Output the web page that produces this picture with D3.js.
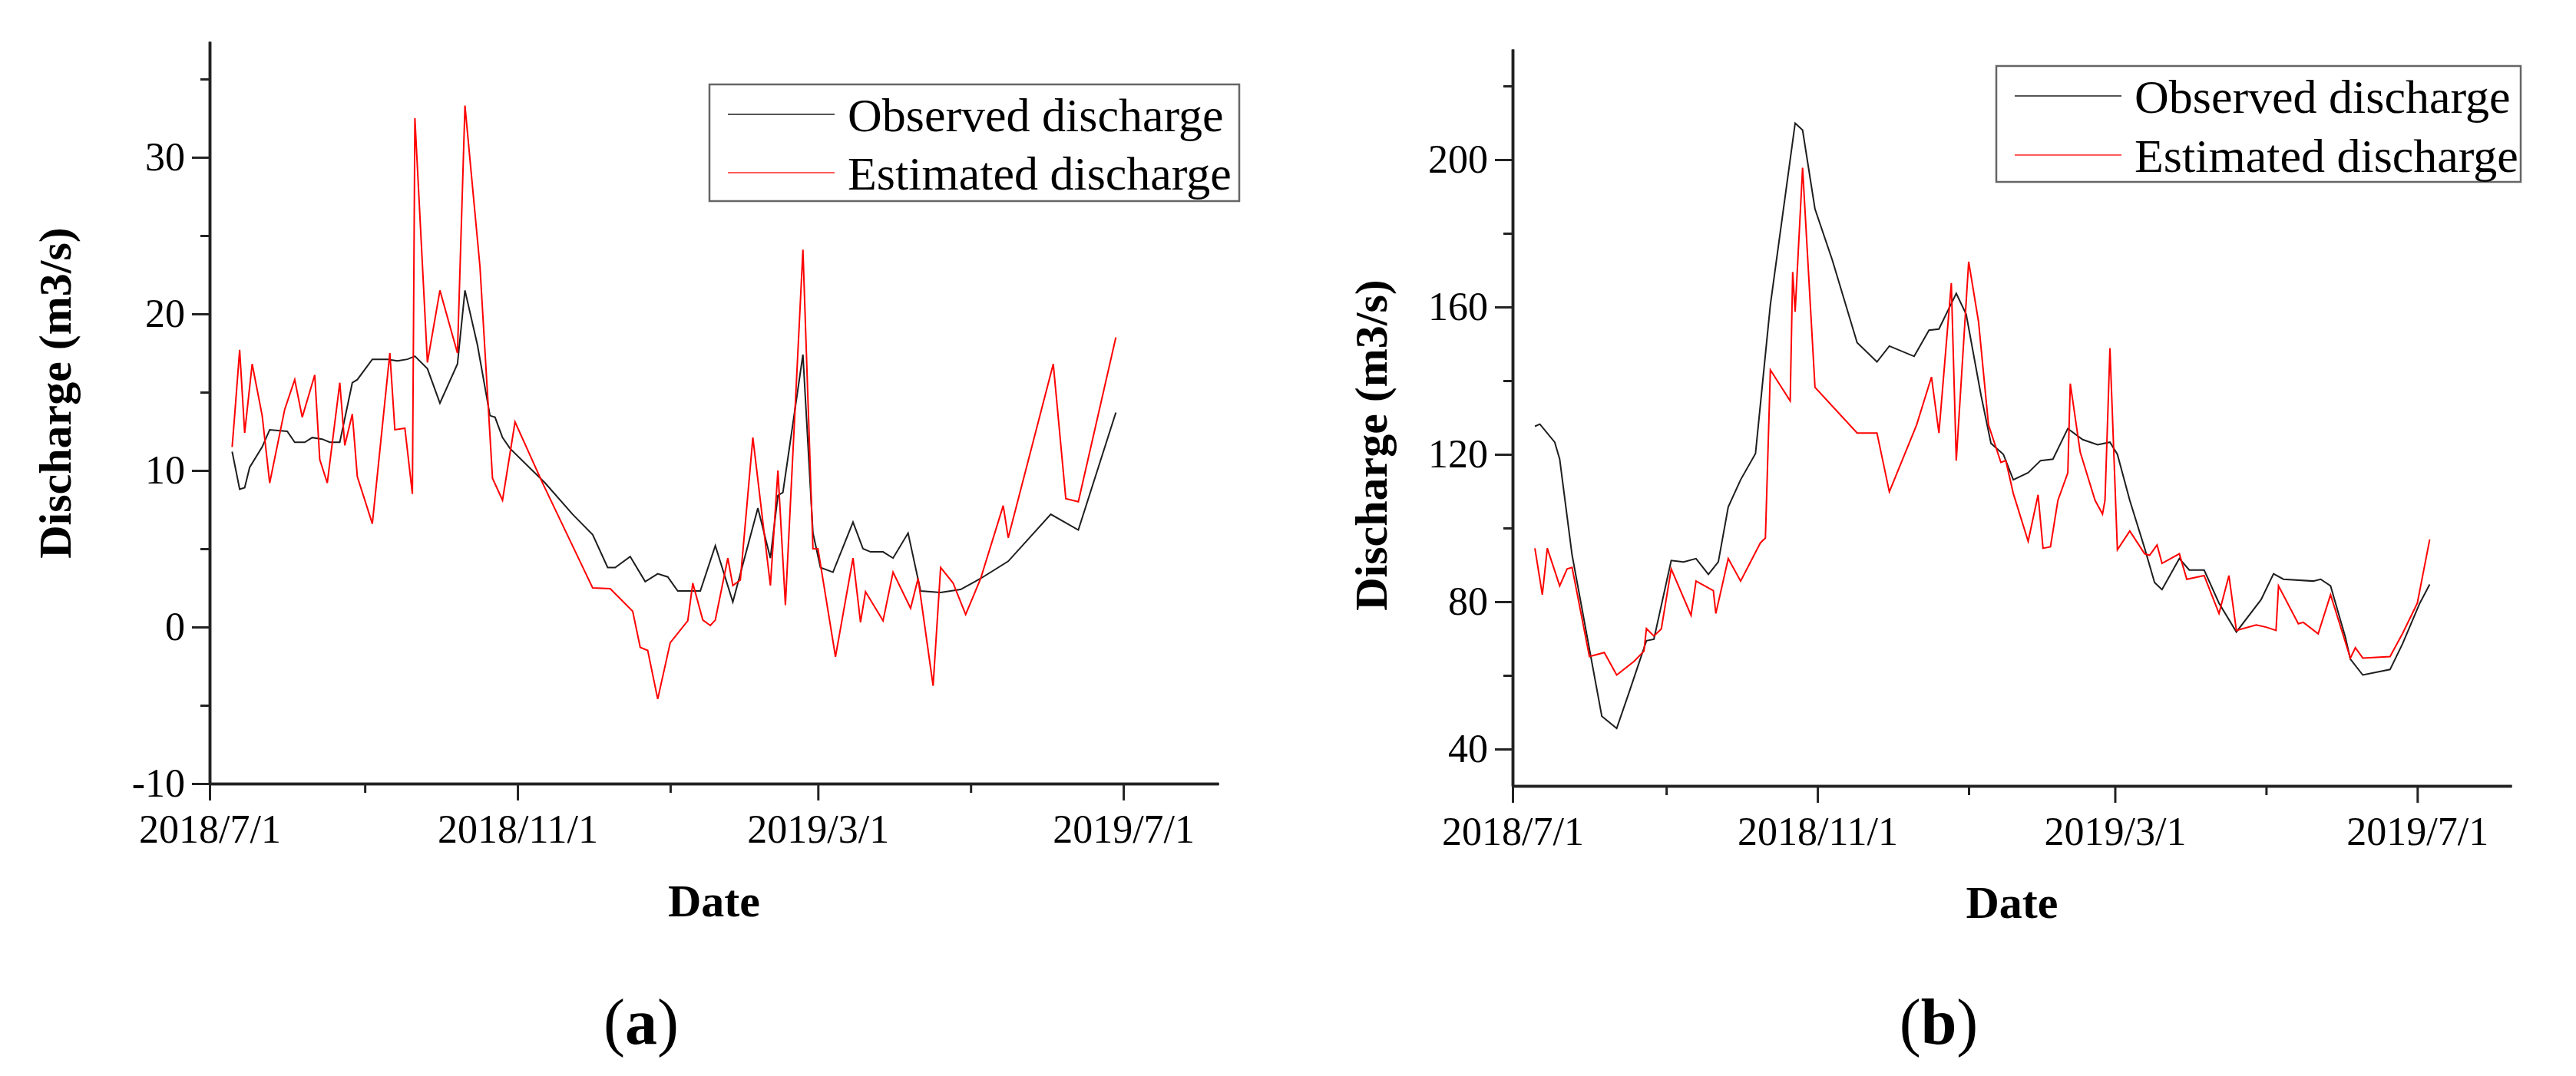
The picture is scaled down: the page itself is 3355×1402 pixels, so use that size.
<!DOCTYPE html>
<html>
<head>
<meta charset="utf-8">
<style>
  body { margin: 0; background: #fff; }
  text { font-family: "Liberation Serif", "Times New Roman", serif; fill: #000; }
  .axis-title { font-weight: bold; font-size: 60px; }
  .legend text { font-size: 62px; }
  .panel-tag { font-size: 84px; }
</style>
</head>
<body>
<svg id="fig" width="3355" height="1402"></svg>
<script src="https://cdnjs.cloudflare.com/ajax/libs/d3/7.8.5/d3.min.js"></script>
<script>
// ---- panel (a) ----
const aObsDate = ["2018-07-10","2018-07-13","2018-07-15","2018-07-17","2018-07-22","2018-07-25","2018-08-01","2018-08-04",
  "2018-08-08","2018-08-11","2018-08-15","2018-08-18","2018-08-22","2018-08-27","2018-08-29","2018-09-04","2018-09-10",
  "2018-09-14","2018-09-18","2018-09-21","2018-09-26","2018-10-01","2018-10-08","2018-10-11","2018-10-16","2018-10-21",
  "2018-10-23","2018-10-26","2018-10-29","2018-11-12","2018-11-23","2018-12-01","2018-12-07","2018-12-10","2018-12-16",
  "2018-12-22","2018-12-27","2018-12-31","2019-01-04","2019-01-13","2019-01-19","2019-01-26","2019-02-05","2019-02-10",
  "2019-02-13","2019-02-15","2019-02-23","2019-02-27","2019-03-02","2019-03-07","2019-03-15","2019-03-19","2019-03-22",
  "2019-03-27","2019-03-31","2019-04-06","2019-04-11","2019-04-19","2019-04-27","2019-05-05","2019-05-16","2019-06-02",
  "2019-06-13","2019-06-28"];
const aObsQ = [11.2,8.8,8.9,10.2,11.5,12.6,12.5,11.8,
  11.8,12.1,12.0,11.8,11.8,15.6,15.8,17.1,17.1,
  17.0,17.1,17.3,16.5,14.3,16.8,21.5,18.0,13.5,
  13.4,12.1,11.4,9.2,7.2,5.9,3.8,3.8,4.5,
  2.9,3.4,3.2,2.3,2.3,5.2,1.6,7.6,4.4,
  8.4,8.6,17.4,6.0,3.8,3.5,6.7,5.0,4.8,
  4.8,4.4,6.0,2.3,2.2,2.4,3.1,4.2,7.2,
  6.2,13.7];

const aEstDate = ["2018-07-10","2018-07-11","2018-07-13","2018-07-15","2018-07-18","2018-07-22","2018-07-25","2018-07-31",
  "2018-08-04","2018-08-07","2018-08-12","2018-08-14","2018-08-17","2018-08-22","2018-08-24","2018-08-27","2018-08-29",
  "2018-09-04","2018-09-11","2018-09-13","2018-09-17","2018-09-20","2018-09-21","2018-09-26","2018-10-01","2018-10-08",
  "2018-10-11","2018-10-17","2018-10-22","2018-10-26","2018-10-31","2018-11-11","2018-12-01","2018-12-08","2018-12-17",
  "2018-12-20","2018-12-23","2018-12-27","2019-01-01","2019-01-08","2019-01-10","2019-01-14","2019-01-17","2019-01-19",
  "2019-01-24","2019-01-26","2019-01-29","2019-02-03","2019-02-10","2019-02-13","2019-02-16","2019-02-23","2019-02-27",
  "2019-03-01","2019-03-08","2019-03-15","2019-03-18","2019-03-20","2019-03-27","2019-03-31","2019-04-07","2019-04-10",
  "2019-04-16","2019-04-19","2019-04-24","2019-04-29","2019-05-05","2019-05-14","2019-05-16","2019-06-03","2019-06-08",
  "2019-06-13","2019-06-28"];
const aEstQ = [11.5,13.5,17.7,12.4,16.8,13.5,9.2,13.9,
  15.8,13.4,16.1,10.7,9.2,15.6,11.6,13.6,9.6,
  6.6,17.5,12.6,12.7,8.5,32.5,16.9,21.5,17.5,
  33.3,23.0,9.5,8.1,13.1,9.2,2.5,2.45,1.0,
  -1.3,-1.5,-4.6,-1.0,0.4,2.8,0.45,0.1,0.45,
  4.4,2.65,3.0,12.1,2.65,10.0,1.4,24.1,5.0,
  5.0,-1.9,4.4,0.3,2.25,0.4,3.5,1.2,3.1,
  -3.75,3.8,2.8,0.8,3.1,7.75,5.7,16.8,8.2,
  8.0,18.5];

// ---- panel (b) ----
const bObsDate = ["2018-07-10","2018-07-12","2018-07-18","2018-07-20","2018-07-25","2018-08-06","2018-08-12","2018-08-17",
  "2018-08-24","2018-08-27","2018-09-03","2018-09-08","2018-09-13","2018-09-18","2018-09-22","2018-09-26","2018-10-01",
  "2018-10-07","2018-10-13","2018-10-23","2018-10-26","2018-10-31","2018-11-07","2018-11-17","2018-11-25","2018-11-30",
  "2018-12-10","2018-12-16","2018-12-20","2018-12-27","2018-12-31","2019-01-06","2019-01-10","2019-01-15","2019-01-19",
  "2019-01-25","2019-01-30","2019-02-04","2019-02-10","2019-02-16","2019-02-22","2019-02-27","2019-03-02","2019-03-07",
  "2019-03-13","2019-03-17","2019-03-20","2019-03-27","2019-03-31","2019-04-06","2019-04-12","2019-04-19","2019-04-29",
  "2019-05-04","2019-05-08","2019-05-20","2019-05-23","2019-05-27","2019-06-02","2019-06-04","2019-06-09","2019-06-20",
  "2019-06-25","2019-07-02","2019-07-06"];
const bObsQ = [127.6,128.2,123.3,118.7,92.7,48.9,45.6,55.4,
  69.4,69.8,91.2,90.8,91.7,87.4,90.8,105.7,113.1,
  120.2,160.6,209.9,208,186.6,172.7,150.3,145.1,149.4,
  146.6,153.7,154,163.7,158,136,123,120,113.1,
  115,118.3,118.7,127,124,122.6,123.3,120,107.5,
  94.5,85.2,83.3,91.7,88.6,88.6,79.6,71.8,80.6,
  87.6,86.1,85.6,86.1,84.3,70.3,64.4,60.1,61.6,
  68.5,79.6,84.7];

const bEstDate = ["2018-07-10","2018-07-13","2018-07-15","2018-07-20","2018-07-23","2018-07-25","2018-08-01","2018-08-07",
  "2018-08-12","2018-08-19","2018-08-23","2018-08-24","2018-08-27","2018-08-30","2018-09-03","2018-09-11","2018-09-13",
  "2018-09-20","2018-09-21","2018-09-26","2018-10-01","2018-10-09","2018-10-11","2018-10-13","2018-10-21","2018-10-22",
  "2018-10-23","2018-10-26","2018-10-31","2018-11-17","2018-11-25","2018-11-30","2018-12-11","2018-12-17","2018-12-20",
  "2018-12-25","2018-12-27","2019-01-01","2019-01-05","2019-01-09","2019-01-14","2019-01-16","2019-01-19","2019-01-25",
  "2019-01-29","2019-01-31","2019-02-03","2019-02-06","2019-02-10","2019-02-11","2019-02-15","2019-02-21","2019-02-24",
  "2019-02-25","2019-02-27","2019-03-02","2019-03-07","2019-03-13","2019-03-15","2019-03-18","2019-03-20","2019-03-27",
  "2019-03-30","2019-04-06","2019-04-12","2019-04-16","2019-04-19","2019-04-27","2019-05-01","2019-05-05","2019-05-06",
  "2019-05-14","2019-05-16","2019-05-22","2019-05-27","2019-06-04","2019-06-06","2019-06-09","2019-06-20","2019-06-25",
  "2019-07-01","2019-07-06"];
const bEstQ = [94.5,81.9,94.5,84.3,88.9,89.3,65.1,66.2,
  60.1,63.8,66.6,72.7,70.7,72.6,88.9,76.3,85.6,
  83,76.8,91.7,85.6,96,97.3,142.9,134.5,169.5,
  158.7,197.8,138.2,125.8,125.8,109.8,128,141,125.8,
  166.5,118.3,172.3,155.9,128,117.8,118.3,109.4,96.4,
  109,94.5,94.9,107.5,115,139.2,120.6,107.5,103.8,
  107.5,148.8,94.1,99.2,93,92.6,95.4,90.4,93,
  86.1,87.1,76.8,87.1,72.2,73.7,73.1,72.2,84.3,
  74,74.4,71.3,81.9,64.7,67.5,64.7,65.1,71.3,
  79.6,96.9];

const dateTicks = ["2018-07-01","2018-11-01","2019-03-01","2019-07-01"];
const dateMinor = ["2018-09-01","2019-01-01","2019-05-01"];
const aTicks = [-10, 0, 10, 20, 30], aMinor = [-5, 5, 15, 25, 35];
const bTicks = [40, 80, 120, 160, 200], bMinor = [60, 100, 140, 180, 220];
const seriesNames = ["Observed discharge", "Estimated discharge"];

const serif = "Liberation Serif, Times New Roman, serif";
const parse = d3.timeParse("%Y-%m-%d");
const fmt = d3.timeFormat("%Y/%-m/%-d");
const svg = d3.select("#fig");
svg.append("rect").attr("width", 3355).attr("height", 1402).attr("fill", "#fff");

function panel(o) {
  const x = d3.scaleTime()
    .domain([parse("2018-07-01"), parse("2019-08-08")])
    .range([o.left, o.right]);
  const y = d3.scaleLinear().domain(o.ydom).range([o.bottom, o.top]);
  const g = svg.append("g");

  // minor ticks first, then major axis on top
  g.append("g").attr("transform", `translate(0,${o.bottom})`)
    .call(d3.axisBottom(x).tickValues(dateMinor.map(parse)).tickSize(12).tickSizeOuter(0).tickFormat(""));
  g.append("g").attr("transform", `translate(0,${o.bottom})`)
    .call(d3.axisBottom(x).tickValues(dateTicks.map(parse)).tickSize(22).tickSizeOuter(0)
      .tickPadding(18).tickFormat(fmt));
  g.append("g").attr("transform", `translate(${o.left},0)`)
    .call(d3.axisLeft(y).tickValues(o.minor).tickSize(12).tickSizeOuter(0).tickFormat(""));
  g.append("g").attr("transform", `translate(${o.left},0)`)
    .call(d3.axisLeft(y).tickValues(o.ticks).tickSize(23).tickSizeOuter(0)
      .tickPadding(9).tickFormat(d => String(d)));
  g.selectAll("g").attr("font-family", serif).attr("font-size", 52);
  g.selectAll(".domain").attr("stroke", "#222").attr("stroke-width", 3.5);
  g.selectAll(".tick line").attr("stroke", "#222").attr("stroke-width", 3);
  g.selectAll(".tick text").attr("fill", "#111").style("font-family", serif).style("font-size", "52px");

  const line = d3.line().x(d => x(d[0])).y(d => y(d[1]));
  const obs = o.obsDate.map((d, i) => [parse(d), o.obsQ[i]]);
  const est = o.estDate.map((d, i) => [parse(d), o.estQ[i]]);
  g.append("path").datum(obs).attr("d", line)
    .attr("fill", "none").attr("stroke", "#1e1e1e").attr("stroke-width", 2);
  g.append("path").datum(est).attr("d", line)
    .attr("fill", "none").attr("stroke", "#ff0000").attr("stroke-width", 2);

  // legend
  const lg = g.append("g").attr("class", "legend");
  lg.append("rect").attr("x", o.lg.x).attr("y", o.lg.y).attr("width", o.lg.w).attr("height", o.lg.h)
    .attr("fill", "#fff").attr("stroke", "#666").attr("stroke-width", 2.5);
  const colors = ["#555", "#ff5a5a"];
  seriesNames.forEach((name, i) => {
    const ly = o.lg.y + o.lg.row0 + i * o.lg.step;
    lg.append("line").attr("x1", o.lg.x + 24).attr("x2", o.lg.x + 163)
      .attr("y1", ly).attr("y2", ly).attr("stroke", colors[i]).attr("stroke-width", 2);
    lg.append("text").attr("x", o.lg.x + 180).attr("y", ly + 22).text(name);
  });

  // titles
  g.append("text").attr("class", "axis-title").attr("text-anchor", "middle")
    .attr("x", (o.left + o.right) / 2).attr("y", o.dateY).text("Date");
  g.append("text").attr("class", "axis-title").attr("text-anchor", "middle")
    .attr("transform", `translate(${o.yLabX},${o.yLabY}) rotate(-90)`)
    .attr("dominant-baseline", "central").text("Discharge (m3/s)");
  const tag = g.append("text").attr("class", "panel-tag").attr("text-anchor", "middle")
    .attr("x", o.tagX).attr("y", 1360);
  tag.append("tspan").text("(");
  tag.append("tspan").attr("font-weight", "bold").text(o.tag);
  tag.append("tspan").text(")");
}

panel({
  left: 273, right: 1587, top: 54, bottom: 1021, ydom: [-10, 37.4],
  ticks: aTicks, minor: aMinor,
  obsDate: aObsDate, obsQ: aObsQ, estDate: aEstDate, estQ: aEstQ,
  lg: { x: 924, y: 110, w: 690, h: 152, row0: 39, step: 76 },
  dateY: 1194, yLabX: 72, yLabY: 512, tagX: 835, tag: "a"
});
panel({
  left: 1970, right: 3271, top: 64, bottom: 1024, ydom: [30, 230],
  ticks: bTicks, minor: bMinor,
  obsDate: bObsDate, obsQ: bObsQ, estDate: bEstDate, estQ: bEstQ,
  lg: { x: 2600, y: 86, w: 683, h: 151, row0: 39, step: 77 },
  dateY: 1196, yLabX: 1786, yLabY: 580, tagX: 2525, tag: "b"
});
</script>
</body>
</html>
